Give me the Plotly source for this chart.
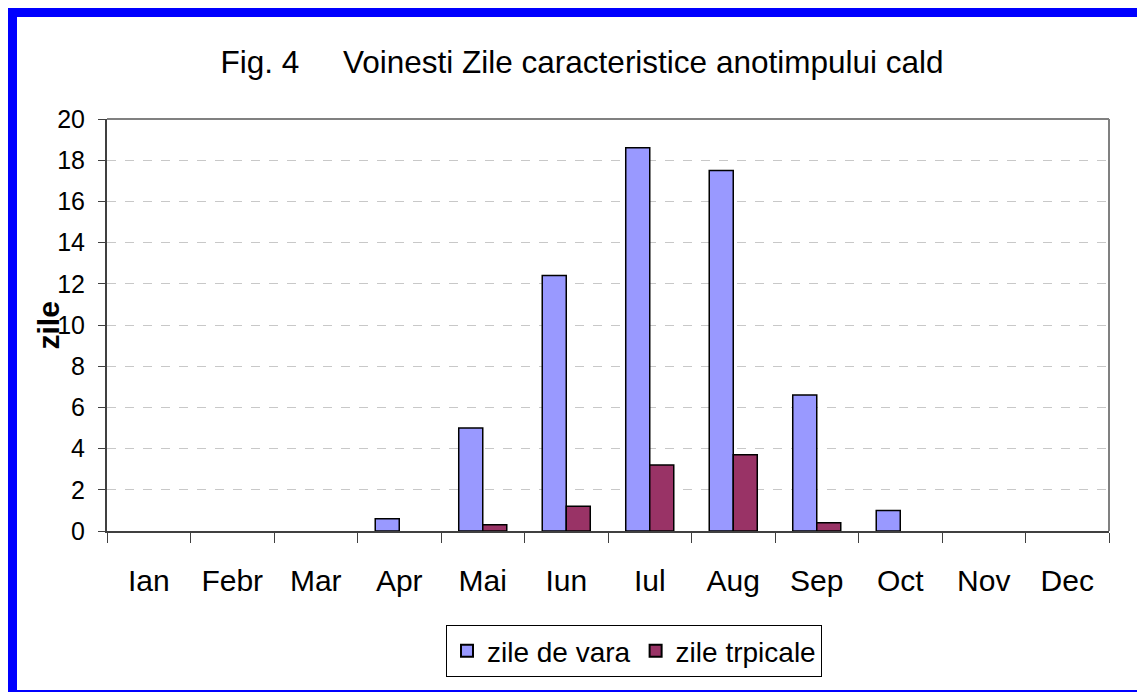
import plotly.graph_objects as go

# data
months = ['Ian', 'Febr', 'Mar', 'Apr', 'Mai', 'Iun', 'Iul', 'Aug', 'Sep', 'Oct', 'Nov', 'Dec']
zile_de_vara = [0, 0, 0, 0.6, 5.0, 12.4, 18.6, 17.5, 6.6, 1.0, 0, 0]
zile_tropicale = [0, 0, 0, 0, 0.3, 1.2, 3.2, 3.7, 0.4, 0, 0, 0]
y_ticks = [0, 2, 4, 6, 8, 10, 12, 14, 16, 18, 20]

# the page puts the figure 8px in from the corner, so work in shifted pixels
OFF = 8
W, H = 1145 - OFF, 692 - OFF
L, R, T, B = 107 - OFF, 1109 - OFF, 119 - OFF, 531 - OFF  # plot area in pixels
FONT = 'Liberation Sans, Arial, sans-serif'


def px_x(p):
    return (p - OFF - L) / (R - L)


def px_y(p):
    return (B - (p - OFF)) / (B - T)


# empty months get no outline
def outline(vals):
    return [1.5 if v > 0 else 0 for v in vals]


fig = go.Figure()
fig.add_trace(go.Bar(
    x=months, y=zile_de_vara, name='zile de vara',
    marker=dict(color='#9999FF', line=dict(color='black', width=outline(zile_de_vara))),
))
fig.add_trace(go.Bar(
    x=months, y=zile_tropicale, name='zile trpicale',
    marker=dict(color='#993366', line=dict(color='black', width=outline(zile_tropicale))),
))

fig.update_layout(
    width=W, height=H,
    margin=dict(l=L, r=W - R, t=T, b=H - B, autoexpand=False),
    paper_bgcolor='white', plot_bgcolor='white',
    font=dict(family=FONT, color='black'),
    barmode='group', bargap=0.425, bargroupgap=0,
    showlegend=True,
    title=dict(
        text='Fig. 4' + '\u00a0' * 5 + 'Voinesti Zile caracteristice anotimpului cald',
        x=(582 - OFF) / W, xanchor='center', xref='container',
        y=1 - (62 - OFF) / H, yanchor='middle', yref='container',
        font=dict(size=31.5, family=FONT),
    ),
    legend=dict(
        orientation='h', x=px_x(634), xanchor='center',
        y=px_y(625), yanchor='top',
        bordercolor='black', borderwidth=1, bgcolor='white',
        font=dict(size=28, family=FONT),
        itemsizing='constant',
    ),
)

fig.update_xaxes(
    showline=True, linecolor='#404040', linewidth=2,
    ticks='outside', ticklen=10, tickcolor='#404040', tickwidth=1,
    tickson='boundaries', ticklabelstandoff=22,
    tickfont=dict(size=30, family=FONT),
    showgrid=False, zeroline=False,
)
fig.update_yaxes(
    range=[0, 20], tickvals=y_ticks,
    showline=True, linecolor='#404040', linewidth=2,
    ticks='outside', ticklen=7, tickcolor='#404040', tickwidth=1,
    ticklabelstandoff=8,
    tickfont=dict(size=25, family=FONT),
    showgrid=True, gridcolor='#c8c8c8', griddash='dash', gridwidth=1,
    zeroline=False,
)

# y axis title placed by hand, tight against the tick labels
fig.add_annotation(
    text='<b>zile</b>', textangle=-90, showarrow=False,
    xref='paper', yref='paper', x=px_x(47.5), y=px_y(326),
    xanchor='center', yanchor='middle',
    font=dict(size=30, family=FONT),
)

# gray top/right border of plot area
fig.add_shape(type='line', xref='paper', yref='paper', x0=0, x1=1, y0=1, y1=1,
              line=dict(color='#808080', width=2))
fig.add_shape(type='line', xref='paper', yref='paper', x0=1, x1=1, y0=0, y1=1,
              line=dict(color='#808080', width=2))

# blue frame around the picture
blue = '#0000FF'
fig.add_shape(type='rect', xref='paper', yref='paper',
              x0=px_x(7), x1=px_x(1150), y0=px_y(7), y1=px_y(17),
              fillcolor=blue, line=dict(width=0), layer='above')
fig.add_shape(type='rect', xref='paper', yref='paper',
              x0=px_x(7), x1=px_x(17), y0=px_y(7), y1=px_y(697),
              fillcolor=blue, line=dict(width=0), layer='above')
fig.add_shape(type='rect', xref='paper', yref='paper',
              x0=px_x(7), x1=px_x(1150), y0=px_y(690), y1=px_y(697),
              fillcolor=blue, line=dict(width=0), layer='above')

fig.write_html('out.html')
